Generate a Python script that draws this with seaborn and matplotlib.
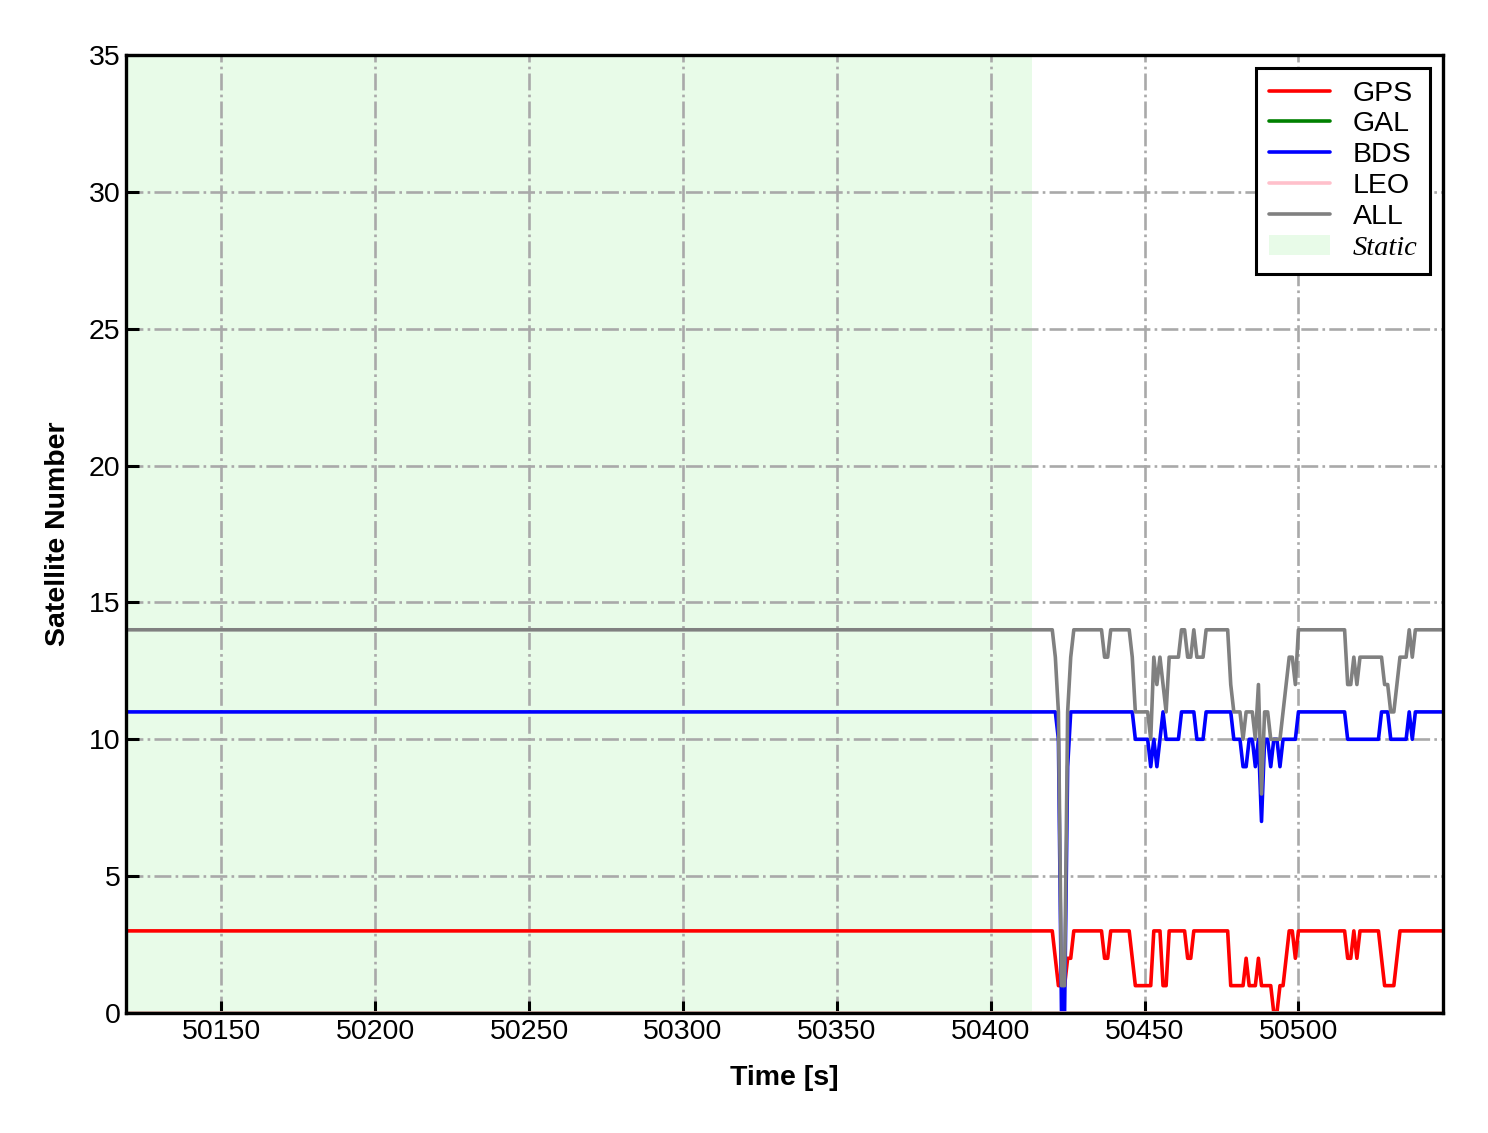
import numpy as np
import pandas as pd
import seaborn as sns
import matplotlib.pyplot as plt
from matplotlib.patches import Patch

# time axis (1 s epochs) and static period
t_start, t_end = 50119, 50547
static_end = 50413.5

# satellite counts per epoch as (value, run length)
gps_vals = [3, 2, 1, 2, 3, 2, 3, 2, 1, 3, 1, 3, 2, 3, 1, 2, 1, 2, 1, 0, 1, 2, 3, 2, 3, 2, 3, 2, 3, 2, 1, 2, 3]
gps_runs = [302, 1, 3, 2, 10, 2, 7, 1, 6, 3, 2, 6, 2, 12, 5, 1, 3, 1, 4, 2, 2, 1, 2, 1, 16, 2, 1, 1, 7, 1, 4, 1, 15]

bds_vals = [11, 10, 0, 9, 11, 10, 9, 10, 9, 10, 11, 10, 11, 10, 11, 10, 9, 10, 9, 10, 7, 10, 9, 10, 9, 10,
            11, 10, 11, 10, 11, 10, 11]
bds_runs = [303, 1, 2, 1, 21, 5, 1, 1, 1, 1, 1, 5, 5, 3, 9, 3, 2, 2, 1, 1, 1, 2, 1, 2, 1, 5,
            16, 11, 3, 6, 1, 1, 10]

gal_vals, gal_runs = [0], [429]
leo_vals, leo_runs = [0], [429]

time = np.arange(t_start, t_end + 1)
gps = np.repeat(gps_vals, gps_runs)
bds = np.repeat(bds_vals, bds_runs)
gal = np.repeat(gal_vals, gal_runs)
leo = np.repeat(leo_vals, leo_runs)
df = pd.DataFrame({"time": time, "GPS": gps, "GAL": gal, "BDS": bds, "LEO": leo})
df["ALL"] = df[["GPS", "GAL", "BDS", "LEO"]].sum(axis=1)

systems = ["GPS", "GAL", "BDS", "LEO", "ALL"]
colors = {"GPS": "red", "GAL": "green", "BDS": "blue", "LEO": "pink", "ALL": "gray"}

sns.set_style("white")
plt.rcParams["font.family"] = ["Liberation Sans", "DejaVu Sans"]
plt.rcParams["text.color"] = "black"
plt.rcParams["axes.labelcolor"] = "black"

fig = plt.figure(figsize=(14.88, 11.33), dpi=100)
ax = fig.add_axes([0.0847, 0.1059, 0.8851, 0.8456])

ax.axvspan(t_start, static_end, color="lightgreen", alpha=0.2, lw=0, zorder=0)

for s in systems:
    sns.lineplot(data=df, x="time", y=s, color=colors[s], lw=2.6, label=s, ax=ax, legend=False)

ax.set_xlim(t_start, t_end)
ax.set_ylim(0, 35)
ax.set_yticks(range(0, 36, 5))
ax.set_xticks(range(50150, 50501, 50))

ax.set_axisbelow("line")
ax.grid(True, ls="-.", color="darkgray", lw=1.9)

for sp in ax.spines.values():
    sp.set_color("black")
    sp.set_linewidth(2.4)
ax.tick_params(direction="in", length=9, width=2.2, labelsize=20.5, pad=4,
               bottom=True, left=True, top=False, right=False, colors="black")

ax.set_xlabel("Time [s]", fontsize=20.5, fontweight="bold", labelpad=15)
ax.set_ylabel("Satellite Number", fontsize=20.5, fontweight="bold", labelpad=13)

handles, labels = ax.get_legend_handles_labels()
handles.append(Patch(facecolor="lightgreen", alpha=0.2, edgecolor="none"))
labels.append("Static")
leg = ax.legend(handles, labels, loc="upper right", fontsize=20.5, frameon=True, fancybox=False,
                edgecolor="black", framealpha=1, labelspacing=0.17, handlelength=2.15,
                handletextpad=0.8, borderaxespad=0.45, borderpad=0.45)
leg.get_frame().set_linewidth(2.2)
leg.texts[-1].set_fontfamily("Liberation Serif")
leg.texts[-1].set_fontstyle("italic")

fig.savefig("out.png", dpi=100)
